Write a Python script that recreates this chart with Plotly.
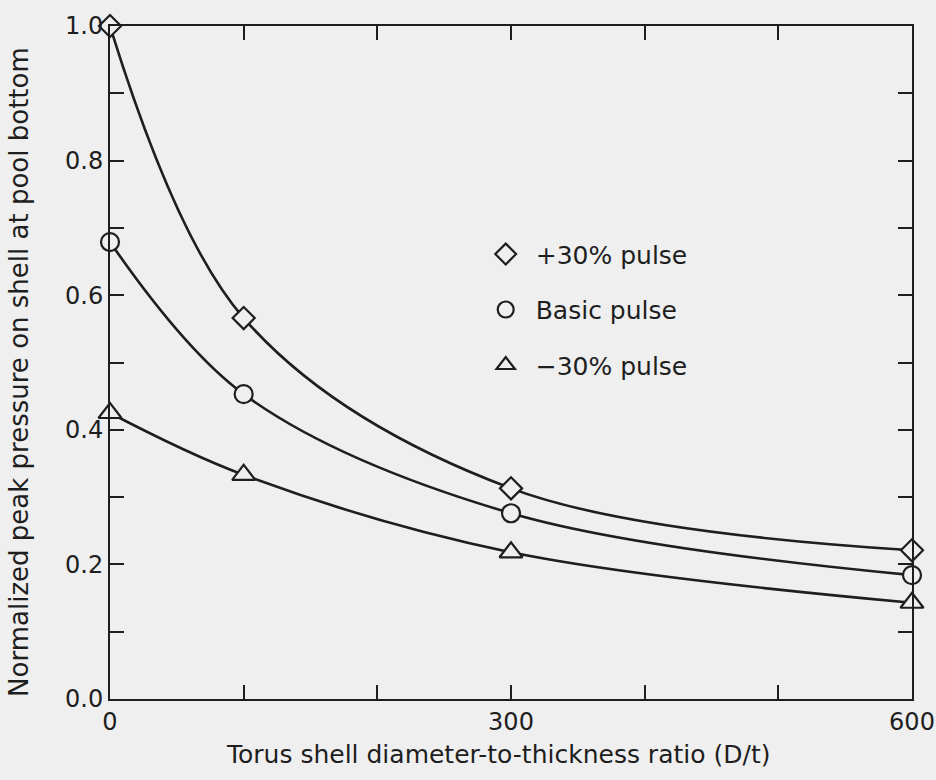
import plotly.graph_objects as go

# D/t values
dt = [0, 100, 300, 600]
# Normalized peak pressure on shell at pool bottom
plus30 = [1.0, 0.566, 0.313, 0.221]
basic = [0.679, 0.453, 0.276, 0.184]
minus30 = [0.425, 0.333, 0.218, 0.143]

series_names = ["+30% pulse", "Basic pulse", "\u221230% pulse"]
series_symbols = ["diamond", "circle", "triangle-up"]
series_sizes = [17, 18, 20]

x_tickvals = [0, 100, 200, 300, 400, 500, 600]
x_ticktext = ["0", "", "", "300", "", "", "600"]
y_tickvals = [0.0, 0.1, 0.2, 0.3, 0.4, 0.5, 0.6, 0.7, 0.8, 0.9, 1.0]
y_ticktext = ["0.0", "", "0.2", "", "0.4", "", "0.6", "", "0.8", "", "1.0"]

x_title = "Torus shell diameter-to-thickness ratio (D/t)"
y_title = "Normalized peak pressure on shell at pool bottom"

BG = "#efefef"
INK = "#1e1e1e"
FONT = "DejaVu Sans"

fig = go.Figure()
for vals, name, sym, sz in zip([plus30, basic, minus30], series_names, series_symbols, series_sizes):
    fig.add_trace(go.Scatter(
        x=dt, y=vals, mode="lines+markers", showlegend=False, cliponaxis=False,
        line=dict(color=INK, width=2.6, shape="spline", smoothing=1.0),
        marker=dict(symbol=sym, size=sz, color=BG, line=dict(color=INK, width=2.2)),
    ))
    fig.add_trace(go.Scatter(
        x=[None], y=[None], mode="markers", name=name, legendgroup=name,
        marker=dict(symbol=sym, size=sz, color=BG, line=dict(color=INK, width=2.2)),
    ))

axis_common = dict(
    showline=True, linecolor=INK, linewidth=2, mirror="ticks",
    ticks="inside", ticklen=14, tickwidth=2, tickcolor=INK,
    showgrid=False, zeroline=False, automargin=False,
    tickfont=dict(family=FONT, size=24, color=INK),
)

fig.update_xaxes(range=[0, 600], tickmode="array", tickvals=x_tickvals, ticktext=x_ticktext,
                 **axis_common)
fig.update_yaxes(range=[0, 1.0], tickmode="array", tickvals=y_tickvals, ticktext=y_ticktext,
                 **axis_common)

fig.add_annotation(text=x_title, xref="paper", yref="paper", x=0.4838, y=-0.083,
                   xanchor="center", yanchor="middle", showarrow=False,
                   font=dict(family=FONT, size=25, color=INK))
fig.add_annotation(text=y_title, xref="paper", yref="paper", x=-0.1135, y=0.486,
                   xanchor="center", yanchor="middle", showarrow=False, textangle=-90,
                   font=dict(family=FONT, size=26, color=INK))

fig.update_layout(
    width=936, height=780,
    margin=dict(l=110, r=24, t=26, b=81),
    paper_bgcolor=BG, plot_bgcolor=BG,
    legend=dict(x=0.456, y=0.695, xanchor="left", yanchor="top", itemwidth=50,
                bgcolor="rgba(0,0,0,0)", font=dict(family=FONT, size=25, color=INK),
                traceorder="grouped", tracegroupgap=20),
)

fig.write_html("out.html")
